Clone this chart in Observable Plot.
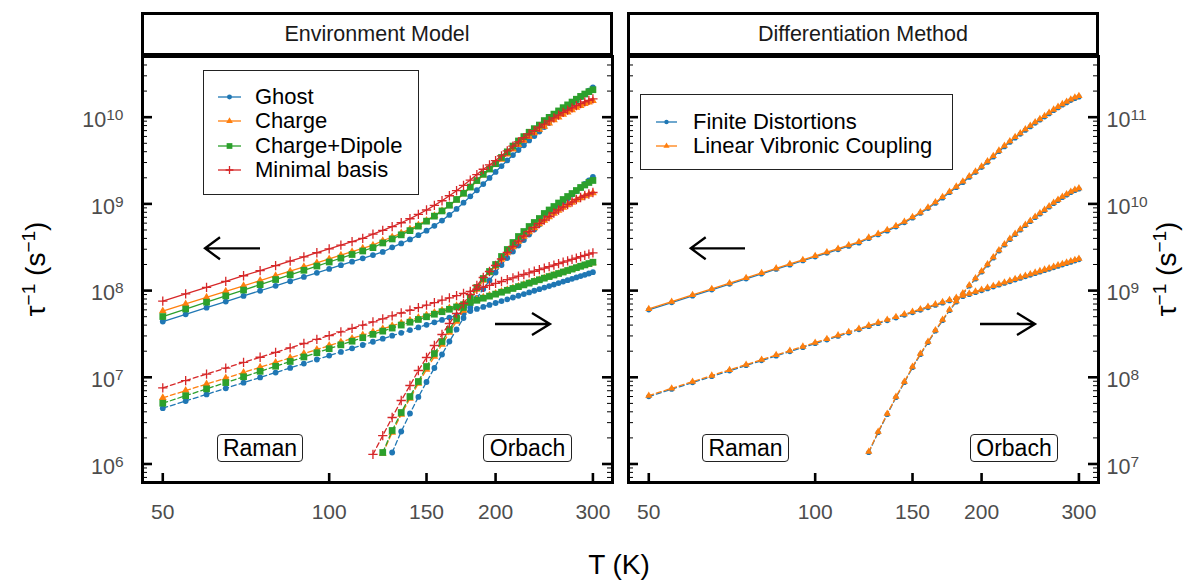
<!DOCTYPE html>
<html>
<head>
<meta charset="utf-8">
<script src="https://cdn.jsdelivr.net/npm/d3@7"></script>
<script src="https://cdn.jsdelivr.net/npm/@observablehq/plot@0.6"></script>
<style>
html,body{margin:0;padding:0;background:#fff;}
#root{position:relative;width:1193px;height:580px;overflow:hidden;font-family:"Liberation Sans",Arial,Helvetica,sans-serif;color:#000;}
.strip{position:absolute;top:12px;height:44px;box-sizing:border-box;border:3px solid #000;background:#fff;font-size:21.5px;color:#1a1a1a;display:flex;align-items:center;justify-content:center;}
.legend{position:absolute;box-sizing:border-box;border:1px solid #222;background:#fff;}
.entry{position:absolute;height:26px;line-height:26px;font-size:22px;white-space:nowrap;}
.tag{position:absolute;top:434px;height:28px;box-sizing:border-box;border:1.3px solid #222;border-radius:4px;background:#fff;font-size:23px;line-height:26px;text-align:center;}
.title{position:absolute;font-size:28px;white-space:nowrap;line-height:1;}
.title sup{font-size:0.68em;vertical-align:0.55em;line-height:0;}
</style>
</head>
<body>
<div id="root"></div>
<script>
// ---------------- data ----------------
const temps = [50,55,60,65,70,75,80,85,90,95,100,105,110,115,120,125,130,135,140,145,150,155,160,165,170,175,180,185,190,195,200,205,210,215,220,225,230,235,240,245,250,255,260,265,270,275,280,285,290,295,300];
const xTicks = [50,100,150,200,300];
const panelTitles = ["Environment Model","Differentiation Method"];
const models = ["Ghost","Charge","Charge+Dipole","Minimal basis"];
const methods = ["Finite Distortions","Linear Vibronic Coupling"];

// Environment model: total rate (left axis), Raman and Orbach components (right axis, s^-1)
// Orbach arrays are aligned to the end of temps (they start at higher T)
const ghostTotal = [4.40e7,5.33e7,6.35e7,7.47e7,8.67e7,9.96e7,1.135e8,1.282e8,1.439e8,1.605e8,1.780e8,1.963e8,2.156e8,2.359e8,2.570e8,2.790e8,3.156e8,3.496e8,3.889e8,4.356e8,4.913e8,5.585e8,6.421e8,7.470e8,8.744e8,1.033e9,1.221e9,1.437e9,1.692e9,1.992e9,2.338e9,2.730e9,3.171e9,3.658e9,4.185e9,4.745e9,5.390e9,6.063e9,6.826e9,7.693e9,8.575e9,9.568e9,1.055e10,1.165e10,1.286e10,1.420e10,1.550e10,1.693e10,1.848e10,2.020e10,2.205e10];
const ghostRaman = [4.40e7,5.33e7,6.35e7,7.47e7,8.67e7,9.96e7,1.135e8,1.282e8,1.439e8,1.605e8,1.780e8,1.963e8,2.156e8,2.359e8,2.570e8,2.790e8,3.020e8,3.259e8,3.507e8,3.763e8,4.030e8,4.305e8,4.589e8,4.883e8,5.186e8,5.498e8,5.819e8,6.149e8,6.489e8,6.838e8,7.196e8,7.564e8,7.939e8,8.325e8,8.720e8,9.124e8,9.537e8,9.960e8,1.039e9,1.083e9,1.128e9,1.174e9,1.221e9,1.269e9,1.318e9,1.367e9,1.418e9,1.469e9,1.522e9,1.575e9,1.630e9];
const ghostOrbach = [1.357e7,2.370e7,3.824e7,5.930e7,8.830e7,1.280e8,1.832e8,2.587e8,3.558e8,4.830e8,6.386e8,8.216e8,1.043e9,1.308e9,1.618e9,1.974e9,2.377e9,2.825e9,3.313e9,3.833e9,4.436e9,5.067e9,5.787e9,6.610e9,7.447e9,8.394e9,9.333e9,1.038e10,1.154e10,1.283e10,1.408e10,1.546e10,1.696e10,1.862e10,2.042e10];

const chargeTotal = [5.80e7,7.02e7,8.35e7,9.80e7,1.137e8,1.305e8,1.485e8,1.676e8,1.879e8,2.094e8,2.320e8,2.558e8,2.807e8,3.068e8,3.341e8,3.757e8,4.152e8,4.600e8,5.116e8,5.726e8,6.450e8,7.311e8,8.328e8,9.602e8,1.111e9,1.300e9,1.541e9,1.824e9,2.146e9,2.478e9,2.825e9,3.259e9,3.738e9,4.256e9,4.807e9,5.382e9,5.968e9,6.553e9,7.201e9,7.829e9,8.510e9,9.261e9,9.962e9,1.072e10,1.140e10,1.214e10,1.291e10,1.358e10,1.428e10,1.485e10,1.544e10];
const chargeRaman = [5.80e7,7.02e7,8.35e7,9.80e7,1.137e8,1.305e8,1.485e8,1.676e8,1.879e8,2.094e8,2.320e8,2.558e8,2.807e8,3.068e8,3.341e8,3.625e8,3.921e8,4.228e8,4.547e8,4.878e8,5.220e8,5.574e8,5.939e8,6.316e8,6.705e8,7.105e8,7.517e8,7.940e8,8.375e8,8.822e8,9.280e8,9.750e8,1.023e9,1.072e9,1.123e9,1.175e9,1.227e9,1.281e9,1.336e9,1.393e9,1.450e9,1.509e9,1.568e9,1.629e9,1.691e9,1.755e9,1.819e9,1.884e9,1.951e9,2.019e9,2.088e9];
const chargeOrbach = [1.320e7,2.310e7,3.720e7,5.690e7,8.480e7,1.230e8,1.737e8,2.389e8,3.286e8,4.401e8,5.895e8,7.896e8,1.030e9,1.308e9,1.596e9,1.897e9,2.284e9,2.715e9,3.184e9,3.684e9,4.207e9,4.741e9,5.272e9,5.865e9,6.436e9,7.060e9,7.752e9,8.394e9,9.090e9,9.710e9,1.038e10,1.109e10,1.170e10,1.233e10,1.283e10,1.335e10];

const dipoleTotal = [5.02e7,6.13e7,7.35e7,8.69e7,1.014e8,1.172e8,1.341e8,1.522e8,1.715e8,1.920e8,2.137e8,2.367e8,2.608e8,2.862e8,3.128e8,3.543e8,3.942e8,4.395e8,4.918e8,5.540e8,6.319e8,7.223e8,8.294e8,9.645e8,1.125e9,1.327e9,1.563e9,1.859e9,2.197e9,2.524e9,2.910e9,3.432e9,3.987e9,4.645e9,5.318e9,5.968e9,6.706e9,7.378e9,8.117e9,9.143e9,9.956e9,1.085e10,1.181e10,1.288e10,1.387e10,1.495e10,1.611e10,1.737e10,1.850e10,1.970e10,2.074e10];
const dipoleRaman = [5.02e7,6.13e7,7.35e7,8.69e7,1.014e8,1.172e8,1.341e8,1.522e8,1.715e8,1.920e8,2.137e8,2.367e8,2.608e8,2.862e8,3.128e8,3.407e8,3.698e8,4.002e8,4.318e8,4.646e8,4.987e8,5.341e8,5.707e8,6.087e8,6.479e8,6.883e8,7.301e8,7.731e8,8.175e8,8.630e8,9.099e8,9.580e8,1.008e9,1.058e9,1.111e9,1.164e9,1.219e9,1.275e9,1.332e9,1.391e9,1.451e9,1.512e9,1.574e9,1.638e9,1.704e9,1.770e9,1.838e9,1.907e9,1.978e9,2.050e9,2.123e9];
const dipoleOrbach = [1.357e7,2.435e7,3.926e7,6.003e7,8.944e7,1.332e8,1.882e8,2.587e8,3.558e8,4.767e8,6.386e8,8.325e8,1.086e9,1.379e9,1.661e9,2.000e9,2.474e9,2.979e9,3.587e9,4.207e9,4.804e9,5.487e9,6.103e9,6.785e9,7.752e9,8.505e9,9.333e9,1.024e10,1.124e10,1.217e10,1.318e10,1.427e10,1.546e10,1.652e10,1.765e10,1.862e10];

const minimalTotal = [7.57e7,9.16e7,1.090e8,1.279e8,1.484e8,1.703e8,1.938e8,2.188e8,2.453e8,2.733e8,3.028e8,3.338e8,3.664e8,4.005e8,4.489e8,4.944e8,5.461e8,6.059e8,6.739e8,7.564e8,8.505e8,9.602e8,1.087e9,1.242e9,1.419e9,1.637e9,1.883e9,2.181e9,2.509e9,2.812e9,3.159e9,3.588e9,4.086e9,4.626e9,5.200e9,5.796e9,6.406e9,7.015e9,7.684e9,8.338e9,9.048e9,9.819e9,1.055e10,1.134e10,1.205e10,1.281e10,1.361e10,1.431e10,1.505e10,1.565e10,1.626e10];
const minimalRaman = [7.57e7,9.16e7,1.090e8,1.279e8,1.484e8,1.703e8,1.938e8,2.188e8,2.453e8,2.733e8,3.028e8,3.338e8,3.664e8,4.005e8,4.360e8,4.731e8,5.117e8,5.519e8,5.935e8,6.366e8,6.813e8,7.275e8,7.752e8,8.244e8,8.751e8,9.273e8,9.811e8,1.036e9,1.093e9,1.151e9,1.211e9,1.273e9,1.335e9,1.400e9,1.466e9,1.533e9,1.602e9,1.672e9,1.744e9,1.818e9,1.893e9,1.969e9,2.047e9,2.126e9,2.207e9,2.290e9,2.374e9,2.460e9,2.547e9,2.635e9,2.725e9];
const minimalOrbach = [1.290e7,2.130e7,3.440e7,5.400e7,8.040e7,1.198e8,1.692e8,2.327e8,3.116e8,4.173e8,5.443e8,7.100e8,9.020e8,1.145e9,1.416e9,1.661e9,1.948e9,2.315e9,2.751e9,3.226e9,3.734e9,4.263e9,4.804e9,5.343e9,5.940e9,6.520e9,7.155e9,7.850e9,8.505e9,9.210e9,9.840e9,1.052e10,1.124e10,1.185e10,1.250e10,1.301e10,1.353e10];

// Differentiation method
const fdTotal = [6.00e7,7.28e7,8.69e7,1.022e8,1.188e8,1.367e8,1.558e8,1.763e8,1.979e8,2.209e8,2.452e8,2.707e8,2.975e8,3.256e8,3.550e8,3.993e8,4.407e8,4.881e8,5.439e8,6.084e8,6.881e8,7.800e8,8.886e8,1.020e9,1.172e9,1.353e9,1.547e9,1.769e9,2.032e9,2.312e9,2.640e9,3.027e9,3.483e9,4.022e9,4.572e9,5.157e9,5.766e9,6.389e9,7.083e9,7.778e9,8.543e9,9.288e9,1.010e10,1.098e10,1.195e10,1.285e10,1.383e10,1.472e10,1.566e10,1.647e10,1.713e10];
const fdRaman = [6.00e7,7.28e7,8.69e7,1.022e8,1.188e8,1.367e8,1.558e8,1.763e8,1.979e8,2.209e8,2.452e8,2.707e8,2.975e8,3.256e8,3.550e8,3.857e8,4.176e8,4.509e8,4.854e8,5.213e8,5.584e8,5.968e8,6.366e8,6.776e8,7.199e8,7.635e8,8.085e8,8.547e8,9.023e8,9.511e8,1.001e9,1.053e9,1.106e9,1.160e9,1.215e9,1.272e9,1.330e9,1.389e9,1.450e9,1.512e9,1.575e9,1.639e9,1.705e9,1.773e9,1.841e9,1.911e9,1.982e9,2.055e9,2.128e9,2.204e9,2.280e9];
const fdOrbach = [1.357e7,2.308e7,3.723e7,5.848e7,8.710e7,1.297e8,1.832e8,2.520e8,3.420e8,4.520e8,5.895e8,7.386e8,9.138e8,1.130e9,1.361e9,1.639e9,1.974e9,2.377e9,2.862e9,3.357e9,3.885e9,4.436e9,5.000e9,5.633e9,6.266e9,6.968e9,7.649e9,8.394e9,9.210e9,1.011e10,1.094e10,1.185e10,1.266e10,1.353e10,1.427e10,1.485e10];

const lvcTotal = [6.15e7,7.46e7,8.91e7,1.048e8,1.218e8,1.401e8,1.597e8,1.807e8,2.028e8,2.264e8,2.513e8,2.775e8,3.049e8,3.337e8,3.639e8,4.093e8,4.517e8,5.003e8,5.575e8,6.236e8,7.053e8,7.995e8,9.108e8,1.045e9,1.201e9,1.387e9,1.586e9,1.813e9,2.083e9,2.370e9,2.706e9,3.103e9,3.570e9,4.123e9,4.686e9,5.286e9,5.910e9,6.549e9,7.260e9,7.973e9,8.757e9,9.520e9,1.035e10,1.126e10,1.225e10,1.317e10,1.418e10,1.508e10,1.605e10,1.689e10,1.756e10];
const lvcRaman = [6.15e7,7.46e7,8.91e7,1.048e8,1.218e8,1.401e8,1.597e8,1.807e8,2.028e8,2.264e8,2.513e8,2.775e8,3.049e8,3.337e8,3.639e8,3.953e8,4.280e8,4.622e8,4.975e8,5.343e8,5.724e8,6.117e8,6.525e8,6.945e8,7.379e8,7.826e8,8.287e8,8.761e8,9.249e8,9.749e8,1.026e9,1.079e9,1.133e9,1.189e9,1.245e9,1.304e9,1.363e9,1.424e9,1.486e9,1.549e9,1.614e9,1.680e9,1.748e9,1.817e9,1.887e9,1.959e9,2.032e9,2.106e9,2.182e9,2.259e9,2.337e9];
const lvcOrbach = [1.384e7,2.354e7,3.797e7,5.965e7,8.884e7,1.323e8,1.869e8,2.570e8,3.488e8,4.610e8,6.013e8,7.534e8,9.321e8,1.153e9,1.388e9,1.672e9,2.013e9,2.425e9,2.919e9,3.424e9,3.963e9,4.525e9,5.100e9,5.746e9,6.391e9,7.107e9,7.802e9,8.562e9,9.394e9,1.031e10,1.116e10,1.209e10,1.291e10,1.380e10,1.456e10,1.515e10];

// ---------------- chart ----------------
const root = document.getElementById("root");
const FONT = '"Liberation Sans",Arial,Helvetica,sans-serif';
const TICKCOL = "#4d4d4d";
const PW = 470, PH = 426;
const xDomain = [45.95, 325.5];

function logTicks(lo, hi) {
  const maj = [], min = [];
  for (let e = Math.floor(Math.log10(lo)); e <= Math.ceil(Math.log10(hi)); e++) {
    for (let m = 1; m < 10; m++) {
      const v = m * Math.pow(10, e);
      if (v >= lo * 0.9999 && v <= hi * 1.0001) (m === 1 ? maj : min).push(v);
    }
  }
  return {maj, min};
}

function alignRows(values, factor) {
  const off = temps.length - values.length;
  return values.map((v, i) => ({T: temps[off + i], y: v * factor}));
}

function makePanel({series, yDomain, side, width, ml, mr, left}) {
  const {maj, min} = logTicks(yDomain[0], yDomain[1]);
  const marks = [];
  marks.push(Plot.ruleY(min, {y: d => d, insetRight: PW - 5, stroke: "#000", strokeWidth: 1}));
  marks.push(Plot.ruleY(min, {y: d => d, insetLeft: PW - 5, stroke: "#000", strokeWidth: 1}));
  marks.push(Plot.ruleY(maj, {y: d => d, insetRight: PW - 10, stroke: "#000", strokeWidth: 2.6}));
  marks.push(Plot.ruleY(maj, {y: d => d, insetLeft: PW - 10, stroke: "#000", strokeWidth: 2.6}));
  marks.push(Plot.ruleX(xTicks, {x: d => d, insetTop: PH - 9, stroke: "#000", strokeWidth: 2.6}));
  marks.push(Plot.text(xTicks, {x: d => d, frameAnchor: "bottom", dy: 30, lineAnchor: "middle", text: d => String(d), fontSize: 21, fill: TICKCOL}));
  marks.push(Plot.text(maj, {
    y: d => d, frameAnchor: side, dx: side === "left" ? -19 : 8, dy: 3,
    textAnchor: side === "left" ? "end" : "start", lineAnchor: "middle",
    text: d => "10^" + Math.round(Math.log10(d)), fontSize: 21.5, fill: TICKCOL
  }));
  for (const s of series) {
    for (const c of s.comps) {
      const rows = alignRows(c.values, c.factor);
      marks.push(Plot.line(rows, {x: "T", y: "y", stroke: s.color, strokeWidth: 1.3, strokeDasharray: c.dashed ? "5,3" : null}));
      marks.push(Plot.dot(rows, {
        x: "T", y: "y", symbol: s.symbol, r: s.r,
        fill: s.symbol === "plus" ? "none" : s.color,
        stroke: s.symbol === "plus" ? s.color : "none",
        strokeWidth: 1.3
      }));
    }
  }
  marks.push(Plot.frame({stroke: "#000", strokeWidth: 3}));
  const svg = Plot.plot({
    width, height: 540,
    marginLeft: ml, marginRight: mr, marginTop: 56, marginBottom: 58,
    x: {type: "log", domain: xDomain, axis: null},
    y: {type: "log", domain: yDomain, axis: null},
    style: {fontFamily: FONT, fontSize: "21px", background: "transparent", overflow: "visible"},
    marks
  });
  d3.select(svg).selectAll("text").each(function () {
    const s = this.textContent;
    if (s.indexOf("^") < 0) return;
    const [b, e] = s.split("^");
    const t = d3.select(this);
    t.text(null);
    t.append("tspan").text(b);
    t.append("tspan").attr("dy", -7).attr("font-size", 15.5).text(e);
  });
  svg.style.position = "absolute";
  svg.style.left = left + "px";
  svg.style.top = "0px";
  svg.style.maxWidth = "none";
  root.appendChild(svg);
}

const modelColors = ["#1f77b4", "#ff7f0e", "#2ca02c", "#d62728"];
const modelSymbols = ["circle", "triangle", "square", "plus"];
const modelR = [2.9, 2.9, 3.8, 3.1];
const modelData = [
  [ghostTotal, ghostRaman, ghostOrbach],
  [chargeTotal, chargeRaman, chargeOrbach],
  [dipoleTotal, dipoleRaman, dipoleOrbach],
  [minimalTotal, minimalRaman, minimalOrbach]
];
const methodColors = ["#1f77b4", "#ff7f0e"];
const methodSymbols = ["circle", "triangle"];
const methodR = [2.6, 2.7];
const methodData = [
  [fdTotal, fdRaman, fdOrbach],
  [lvcTotal, lvcRaman, lvcOrbach]
];

const leftDomain = [Math.pow(10, 5.7866), Math.pow(10, 10.700)];
makePanel({
  series: models.map((m, i) => ({
    color: modelColors[i], symbol: modelSymbols[i], r: modelR[i],
    comps: [
      {values: modelData[i][0], factor: 1, dashed: false},
      {values: modelData[i][1], factor: 0.1, dashed: true},
      {values: modelData[i][2], factor: 0.1, dashed: true}
    ]
  })),
  yDomain: leftDomain, side: "left", width: 620, ml: 142, mr: 8, left: 0
});
const rightDomain = [Math.pow(10, 6.7866), Math.pow(10, 11.700)];
makePanel({
  series: methods.map((m, i) => ({
    color: methodColors[i], symbol: methodSymbols[i], r: methodR[i],
    comps: [
      {values: methodData[i][0], factor: 10, dashed: false},
      {values: methodData[i][1], factor: 1, dashed: true},
      {values: methodData[i][2], factor: 1, dashed: true}
    ]
  })),
  yDomain: rightDomain, side: "right", width: 573, ml: 8, mr: 95, left: 620
});

function addDiv(cls, style, html) {
  const d = document.createElement("div");
  d.className = cls;
  Object.assign(d.style, style);
  d.innerHTML = html;
  root.appendChild(d);
  return d;
}
addDiv("strip", {left: "141px", width: "472px"}, panelTitles[0]);
addDiv("strip", {left: "627px", width: "472px"}, panelTitles[1]);

function swatch(color, symbol, r, w) {
  const svg = d3.create("svg").attr("width", w).attr("height", 26)
    .style("position", "absolute").style("left", "0px").style("top", "0px").style("overflow", "visible");
  svg.append("line").attr("x1", 0).attr("x2", w).attr("y1", 13).attr("y2", 13)
    .attr("stroke", color).attr("stroke-width", 1.3);
  const sym = {circle: d3.symbolCircle, triangle: d3.symbolTriangle, square: d3.symbolSquare, plus: d3.symbolPlus}[symbol];
  svg.append("path").attr("transform", `translate(${w / 2},13)`)
    .attr("d", d3.symbol(sym, Math.PI * r * r)())
    .attr("fill", symbol === "plus" ? "none" : color)
    .attr("stroke", symbol === "plus" ? color : "none")
    .attr("stroke-width", 1.3);
  return svg.node();
}
function legend(box, names, colors, symbols, rs, first, step, swLeft, swW, txtLeft) {
  const lg = addDiv("legend", {left: box[0] + "px", top: box[1] + "px", width: box[2] + "px", height: box[3] + "px"}, "");
  names.forEach((n, i) => {
    const cy = first + step * i;
    const sw = document.createElement("div");
    Object.assign(sw.style, {position: "absolute", left: swLeft + "px", top: (cy - 13) + "px", width: swW + "px", height: "26px"});
    sw.appendChild(swatch(colors[i], symbols[i], rs[i] * 0.85, swW));
    lg.appendChild(sw);
    const t = document.createElement("div");
    t.className = "entry";
    Object.assign(t.style, {left: txtLeft + "px", top: (cy - 13) + "px"});
    t.textContent = n;
    lg.appendChild(t);
  });
}
legend([203, 70, 216, 125], models, modelColors, modelSymbols, modelR, 25.5, 24.5, 14, 23, 51);
legend([640, 94, 313, 76], methods, methodColors, methodSymbols, methodR, 26.5, 24, 15, 21, 52);

addDiv("tag", {left: "217px", width: "86px"}, "Raman");
addDiv("tag", {left: "483px", width: "89px"}, "Orbach");
addDiv("tag", {left: "702px", width: "87px"}, "Raman");
addDiv("tag", {left: "970px", width: "88px"}, "Orbach");

const ov = d3.create("svg").attr("width", 1193).attr("height", 580)
  .style("position", "absolute").style("left", "0px").style("top", "0px").style("pointer-events", "none");
const arrows = [
  "M260,248.3H205M220,237.3L205,248.3L220,259.3",
  "M745,248.3H690.7M705.7,237.3L690.7,248.3L705.7,259.3",
  "M495,324H550M532,313L550,324L532,335",
  "M980,324H1035M1017,313L1035,324L1017,335"
];
arrows.forEach(d => ov.append("path").attr("d", d).attr("fill", "none").attr("stroke", "#000").attr("stroke-width", 2.3));
root.appendChild(ov.node());

const yt = "τ<sup>−1</sup> (s<sup>−1</sup>)";
addDiv("title", {left: "36px", top: "269px", transform: "translate(-50%,-50%) rotate(-90deg)"}, yt);
addDiv("title", {left: "1167px", top: "269px", transform: "translate(-50%,-50%) rotate(-90deg)"}, yt);
addDiv("title", {left: "619px", top: "565px", transform: "translate(-50%,-50%)"}, "T (K)");
</script>
</body>
</html>
